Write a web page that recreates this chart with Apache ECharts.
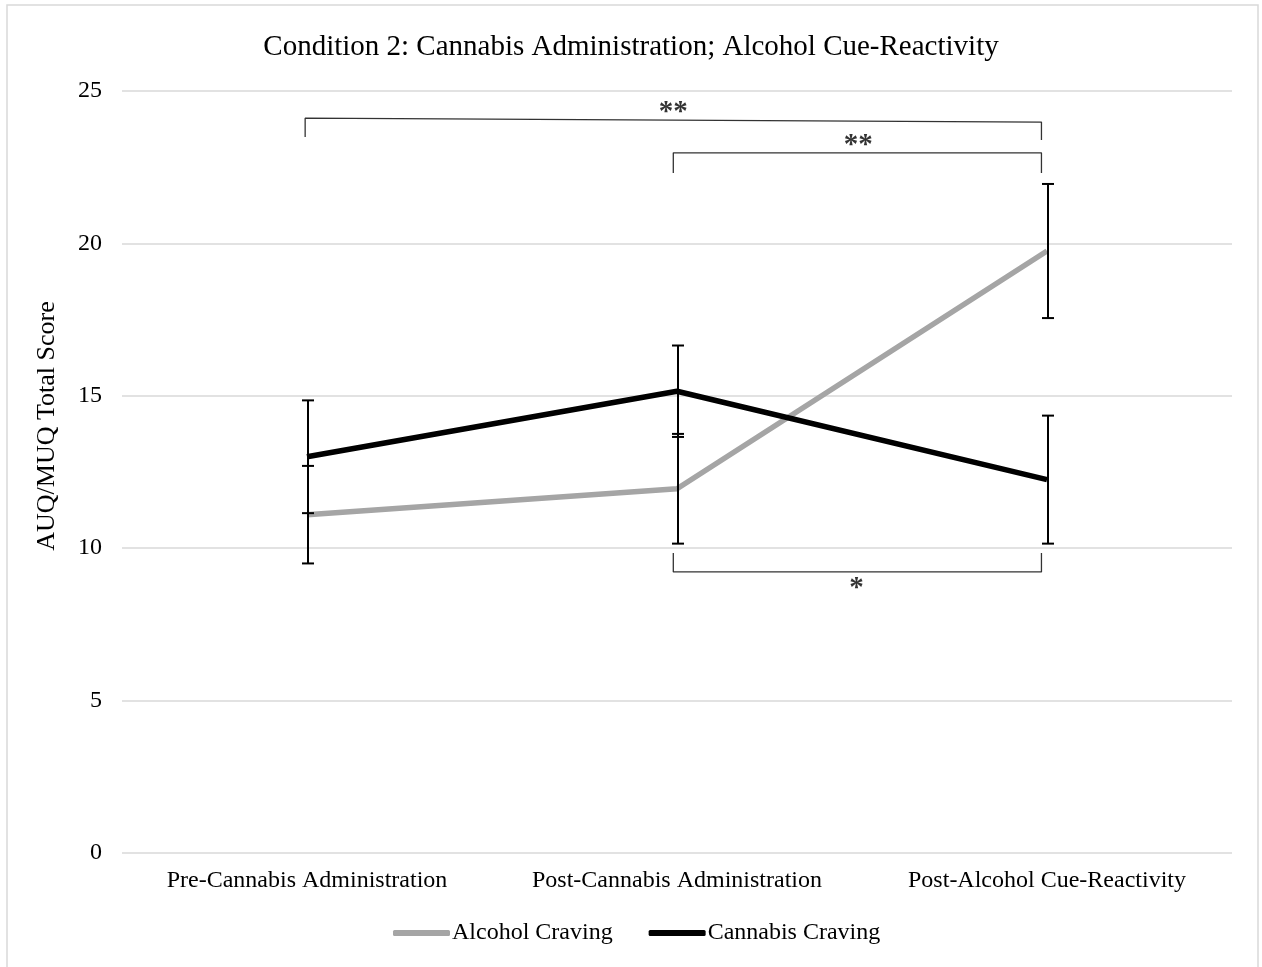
<!DOCTYPE html>
<html>
<head>
<meta charset="utf-8">
<script src="https://cdn.jsdelivr.net/npm/echarts@6/dist/echarts.min.js"></script>
<style>
html,body{margin:0;padding:0;background:#fff;}
#chart{width:1262px;height:967px;}
</style>
</head>
<body>
<div id="chart"></div>
<script>
// ---- data ----
const categories = ['Pre-Cannabis Administration', 'Post-Cannabis Administration', 'Post-Alcohol Cue-Reactivity'];
const alcoholCraving = [11.1, 11.95, 19.75];
const cannabisCraving = [13.0, 15.15, 12.25];
const alcoholError = [1.6, 1.8, 2.2];
const cannabisError = [1.85, 1.5, 2.1];
const yTicks = [0, 5, 10, 15, 20, 25];
// significance brackets (x in category units, y in score units)
const bracketPreToCue = [[-0.005, 23.49], [-0.005, 24.11], [1.985, 23.98], [1.985, 23.39]];
const bracketPostToCueTop = [[0.99, 22.31], [0.99, 22.97], [1.985, 22.97], [1.985, 22.31]];
const bracketPostToCueBottom = [[0.99, 9.84], [0.99, 9.22], [1.985, 9.22], [1.985, 9.84]];
const sigLabels = [
  { name: '**', value: [0.99, 24.3] },
  { name: '**', value: [1.49, 23.2] },
  { name: '*', value: [1.485, 8.68] }
];

const FONT = "'Liberation Serif', 'Times New Roman', serif";
const chart = echarts.init(document.getElementById('chart'));

function errorData(means, errs) {
  return means.map((m, i) => [i, m - errs[i], m + errs[i]]);
}
function renderErr(params, api) {
  const x = api.value(0);
  const lo = api.coord([x, api.value(1)]);
  const hi = api.coord([x, api.value(2)]);
  const cx = lo[0] + 1;
  const w = 6;
  const style = { stroke: '#000', lineWidth: 2 };
  return {
    type: 'group',
    children: [
      { type: 'line', shape: { x1: cx, y1: lo[1], x2: cx, y2: hi[1] }, style },
      { type: 'line', shape: { x1: cx - w, y1: lo[1], x2: cx + w, y2: lo[1] }, style },
      { type: 'line', shape: { x1: cx - w, y1: hi[1], x2: cx + w, y2: hi[1] }, style }
    ]
  };
}
function bracketSeries(data) {
  return {
    type: 'line', xAxisIndex: 1, yAxisIndex: 0, data: data,
    symbol: 'none', silent: true, z: 4,
    lineStyle: { color: '#333', width: 1.3 }, legendHoverLink: false
  };
}

chart.setOption({
  animation: false,
  backgroundColor: '#fff',
  title: {
    text: 'Condition 2: Cannabis Administration; Alcohol Cue-Reactivity',
    left: 'center', top: 28,
    textStyle: { fontFamily: FONT, fontSize: 29, fontWeight: 'normal', color: '#000' }
  },
  legend: {
    data: [
      { name: 'Alcohol Craving', icon: 'roundRect', itemStyle: { color: '#a5a5a5' } },
      { name: 'Cannabis Craving', icon: 'roundRect', itemStyle: { color: '#000' } }
    ],
    bottom: 22, left: 393, padding: 0,
    itemWidth: 57, itemHeight: 6, itemGap: 36,
    textStyle: { fontFamily: FONT, fontSize: 24, color: '#000', padding: [0, 0, 0, -3] }
  },
  grid: { left: 122, right: 30, top: 91, bottom: 114 },
  xAxis: [
    {
      type: 'category', data: categories,
      axisLine: { show: false }, axisTick: { show: false },
      axisLabel: { interval: 0, fontFamily: FONT, fontSize: 24, color: '#000', margin: 16 }
    },
    { type: 'value', min: -0.5, max: 2.5, show: false }
  ],
  yAxis: {
    type: 'value', min: yTicks[0], max: yTicks[yTicks.length - 1], interval: 5,
    axisLine: { show: false }, axisTick: { show: false },
    axisLabel: { fontFamily: FONT, fontSize: 24, color: '#000', margin: 20 },
    splitLine: { lineStyle: { color: '#d9d9d9', width: 1.5 } }
  },
  graphic: [
    {
      type: 'rect', shape: { x: 7, y: 5, width: 1251, height: 980 },
      style: { fill: 'none', stroke: '#d9d9d9', lineWidth: 1.5 }, silent: true
    },
    {
      type: 'text', x: 47, y: 426, rotation: Math.PI / 2,
      style: { text: 'AUQ/MUQ Total Score', font: "26px " + FONT, fill: '#000', textAlign: 'center', textVerticalAlign: 'middle' }
    }
  ],
  series: [
    {
      name: 'Alcohol Craving', type: 'line', data: alcoholCraving,
      symbol: 'none', z: 2,
      lineStyle: { color: '#a5a5a5', width: 5.5 }, itemStyle: { color: '#a5a5a5' }
    },
    {
      name: 'Cannabis Craving', type: 'line', data: cannabisCraving,
      symbol: 'none', z: 3,
      lineStyle: { color: '#000', width: 5.5 }, itemStyle: { color: '#000' }
    },
    { type: 'custom', renderItem: renderErr, data: errorData(alcoholCraving, alcoholError), z: 5, silent: true },
    { type: 'custom', renderItem: renderErr, data: errorData(cannabisCraving, cannabisError), z: 5, silent: true },
    bracketSeries(bracketPreToCue),
    bracketSeries(bracketPostToCueTop),
    bracketSeries(bracketPostToCueBottom),
    {
      type: 'scatter', xAxisIndex: 1, yAxisIndex: 0, data: sigLabels,
      symbolSize: 1, itemStyle: { color: 'rgba(0,0,0,0)' }, silent: true,
      label: {
        show: true, position: 'inside', formatter: p => p.name,
        fontFamily: FONT, fontSize: 29, fontWeight: 'bold', color: '#000'
      }
    }
  ]
});
</script>
</body>
</html>
